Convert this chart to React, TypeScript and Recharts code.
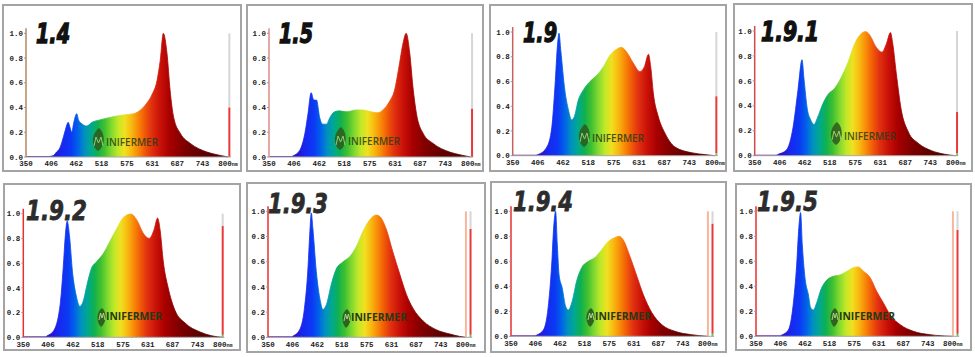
import React from 'react';
import { AreaChart, Area, XAxis, YAxis, ReferenceLine } from 'recharts';

const titles = ['1.4', '1.5', '1.9', '1.9.1', '1.9.2', '1.9.3', '1.9.4', '1.9.5'];
const waveTicks = [350, 406, 462, 518, 575, 631, 687, 743, 800];
const levelTicks = [0, 0.2, 0.4, 0.6, 0.8, 1.0];

// relative intensity, [nm, value]
const spec14 = [
  [350, 0.004], [400, 0.004], [410, 0.01], [418, 0.04], [425, 0.07], [430, 0.12], [437, 0.21], [441, 0.26],
  [444, 0.28], [448, 0.24], [452, 0.2], [456, 0.27], [460, 0.33], [463, 0.35], [467, 0.3], [474, 0.27],
  [485, 0.25], [497, 0.28], [515, 0.3], [537, 0.32], [567, 0.34], [590, 0.35], [605, 0.38], [618, 0.43],
  [630, 0.5], [642, 0.62], [649, 0.78], [656, 1.0], [664, 0.84], [671, 0.54], [679, 0.32], [694, 0.19],
  [716, 0.11], [753, 0.04], [780, 0.015], [800, 0],
];
const spec15 = [
  [350, 0.004], [400, 0.004], [404, 0.01], [418, 0.05], [430, 0.19], [437, 0.35], [444, 0.52], [450, 0.46],
  [456, 0.46], [463, 0.32], [470, 0.265], [478, 0.265], [486, 0.32], [496, 0.365], [507, 0.373], [522, 0.365],
  [545, 0.38], [560, 0.38], [578, 0.365], [593, 0.357], [604, 0.38], [619, 0.45], [630, 0.54], [640, 0.73],
  [649, 0.92], [656, 1.0], [664, 0.84], [671, 0.57], [679, 0.35], [694, 0.19], [716, 0.11], [753, 0.04],
  [780, 0.015], [800, 0],
];
const spec19 = [
  [350, 0.004], [400, 0.004], [407, 0.01], [426, 0.07], [437, 0.23], [444, 0.56], [450, 0.91], [453, 0.99],
  [457, 0.85], [466, 0.53], [474, 0.37], [481, 0.29], [487, 0.315], [496, 0.45], [507, 0.53], [522, 0.6],
  [537, 0.65], [552, 0.72], [566, 0.81], [581, 0.86], [592, 0.876], [603, 0.84], [618, 0.75], [633, 0.68],
  [643, 0.72], [652, 0.82], [657, 0.72], [663, 0.5], [674, 0.315], [689, 0.18], [711, 0.07], [748, 0.024],
  [780, 0.008], [800, 0],
];
const spec191 = [
  [350, 0.004], [398, 0.004], [402, 0.01], [421, 0.045], [436, 0.23], [447, 0.53], [456, 0.77], [460, 0.63],
  [468, 0.37], [475, 0.29], [483, 0.25], [490, 0.3], [503, 0.42], [514, 0.49], [529, 0.54], [544, 0.63],
  [559, 0.75], [574, 0.9], [589, 0.98], [598, 0.995], [607, 0.97], [622, 0.87], [635, 0.83], [645, 0.9],
  [654, 0.987], [659, 0.9], [667, 0.66], [678, 0.37], [694, 0.19], [716, 0.1], [746, 0.04], [775, 0.012],
  [800, 0],
];
const spec192 = [
  [350, 0.004], [400, 0.004], [403, 0.01], [418, 0.05], [433, 0.26], [440, 0.56], [445, 0.83], [449, 0.94],
  [454, 0.83], [461, 0.53], [469, 0.345], [478, 0.25], [485, 0.29], [494, 0.43], [504, 0.56], [515, 0.61],
  [531, 0.68], [546, 0.78], [561, 0.88], [576, 0.97], [593, 0.997], [606, 0.95], [621, 0.84], [634, 0.8],
  [645, 0.87], [653, 0.965], [659, 0.86], [666, 0.61], [677, 0.4], [692, 0.22], [715, 0.116], [749, 0.043],
  [775, 0.012], [800, 0],
];
const spec193 = [
  [350, 0.004], [404, 0.004], [407, 0.01], [422, 0.06], [433, 0.23], [441, 0.55], [445, 0.82], [448.6, 0.987],
  [452, 0.87], [460, 0.52], [469, 0.29], [475, 0.22], [483, 0.26], [494, 0.42], [505, 0.54], [521, 0.6],
  [536, 0.64], [551, 0.72], [566, 0.84], [581, 0.93], [596, 0.97], [604, 0.96], [619, 0.86], [634, 0.68],
  [650, 0.5], [665, 0.34], [680, 0.23], [703, 0.13], [733, 0.06], [764, 0.026], [785, 0.008], [800, 0],
];
const spec194 = [
  [350, 0.004], [405, 0.004], [409, 0.01], [424, 0.05], [435, 0.23], [443, 0.57], [448, 0.89], [452, 1.0],
  [456, 0.73], [460, 0.49], [467, 0.39], [475, 0.24], [481, 0.21], [490, 0.28], [500, 0.44], [512, 0.55],
  [527, 0.6], [542, 0.63], [557, 0.69], [573, 0.76], [588, 0.79], [597, 0.8], [607, 0.77], [622, 0.64],
  [638, 0.48], [653, 0.33], [672, 0.19], [695, 0.093], [725, 0.04], [763, 0.013], [800, 0],
];
const spec195 = [
  [350, 0.004], [405, 0.004], [409, 0.01], [424, 0.05], [435, 0.25], [443, 0.57], [448, 0.87], [452, 0.99],
  [456, 0.73], [462, 0.47], [470, 0.33], [475, 0.23], [481, 0.21], [489, 0.27], [498, 0.37], [512, 0.45],
  [527, 0.48], [542, 0.49], [558, 0.52], [573, 0.55], [584, 0.555], [596, 0.52], [611, 0.47], [626, 0.36],
  [641, 0.27], [657, 0.17], [680, 0.093], [710, 0.04], [748, 0.013], [800, 0],
];
const spectra = [spec14, spec15, spec19, spec191, spec192, spec193, spec194, spec195];

// height of the red indicator bar at the right end of each plot
const redLevels = [0.4, 0.39, 0.48, 0.35, 0.9, 0.86, 0.9, 0.85];

// fill colour along the wavelength axis
const bandNm = [380, 410, 430, 450, 465, 480, 495, 510, 525, 540, 555, 570, 585, 600, 615, 630, 650, 670, 700, 740, 800];
const bandColor = [
  '#5a00a0', '#2a10d0', '#1828ee', '#0c38f4', '#0060ea', '#0090c0', '#00a890', '#10b050', '#40c030',
  '#80d830', '#c0e828', '#f0e020', '#f8b810', '#f88808', '#f05808', '#e03010', '#c81008', '#a80000',
  '#800000', '#600000', '#4a0000',
];

const layouts = [
  { box: [2, 4, 240, 168], plot: [26, 33.3, 228, 157], xMax: 806, barX: 803, axis: '#b8865a', row: 1, title: [36, 43, 34], mark: [92, 146] },
  { box: [246, 4, 238, 168], plot: [269, 33.3, 470.7, 157], xMax: 806, barX: 803, axis: '#e08a8a', row: 1, title: [279, 43, 34], mark: [334, 145] },
  { box: [489, 4, 238, 168], plot: [512.7, 32, 715, 155.7], xMax: 806, barX: 803, axis: '#c86060', row: 1, title: [523, 42, 34], mark: [578, 142] },
  { box: [733, 3, 240, 169], plot: [754.7, 31, 955.7, 155.7], xMax: 806, barX: 803, axis: '#d84848', row: 1, title: [761, 41, 58], mark: [830, 140] },
  { box: [3, 183, 238, 168], plot: [23.3, 213.7, 222.7, 337.3], xMax: 804, barX: 800, axis: '#e83030', row: 2, title: [26, 220, 61], mark: [98, 320] },
  { box: [246, 182, 240, 171], plot: [268, 211.3, 465.7, 337.3], xMax: 815, barX: 811, axis: '#e83030', row: 2, title: [268, 213, 60], mark: [343, 321] },
  { box: [490, 181, 237, 172], plot: [511, 211.3, 707.7, 336.3], xMax: 815, barX: 811, axis: '#e83030', row: 2, title: [513, 211, 60], mark: [587, 320] },
  { box: [735, 183, 237, 168], plot: [756, 211.3, 952.7, 336.3], xMax: 815, barX: 811, axis: '#e83030', row: 2, title: [757, 211, 61], mark: [831, 320] },
];

const Y_MAX = 1.04;
const tickFont = 'Liberation Mono, DejaVu Sans Mono, monospace';

const WaveTick = (props: any) => {
  const { x, y, payload } = props;
  const v = payload.value;
  return (
    <text x={x} y={y} dy="0.71em" textAnchor="middle" fontSize={7.5} fontWeight="bold" fontFamily={tickFont} fill="#222">
      {v}
      {v === 800 && <tspan fontSize={5}>nm</tspan>}
    </text>
  );
};

const Panel = ({ idx }: { idx: number }) => {
  const L = layouts[idx];
  const [bx, by, bw, bh] = L.box;
  const [pl, pt, p800, pb] = L.plot;
  const ox = bx + 2;
  const oy = by + 2;
  const cw = bw - 4;
  const ch = bh - 4;
  const right = pl + ((L.xMax - 350) * (p800 - pl)) / 450;
  const top = pt - (Y_MAX - 1) * (pb - pt);
  const yW = 16;
  const xH = 12;
  const margin = {
    left: pl - ox - yW,
    right: cw - (right - ox),
    top: top - oy,
    bottom: ch - (pb - oy) - xH,
  };
  const data = spectra[idx].map(([nm, v]) => ({ nm, v }));
  const gid = `spec-${idx}`;
  const level = redLevels[idx];
  const withGreen = idx >= 2;
  const withPeach = idx >= 5;
  const [tx, ty, tw] = L.title;
  const [mx, my] = L.mark;
  const big = L.row === 2;
  const titleColor = big ? '#2c2c2c' : '#111';

  return (
    <div
      style={{
        position: 'absolute', left: bx, top: by, width: bw, height: bh,
        border: '2px solid #a4a4a4', boxSizing: 'border-box', background: '#fff',
      }}
    >
      <div style={{ position: 'absolute', left: 0, top: 0 }}>
        <AreaChart width={cw} height={ch} data={data} margin={margin}>
          <defs>
            <linearGradient id={gid} x1="0" y1="0" x2="1" y2="0">
              {bandNm.map((nm, i) => (
                <stop key={nm} offset={Math.max(0, (nm - 350) / 450)} stopColor={bandColor[i]} />
              ))}
            </linearGradient>
          </defs>
          <XAxis
            dataKey="nm" type="number" domain={[350, L.xMax]} ticks={waveTicks} interval={0}
            height={xH} tickLine={false} tickSize={0} tickMargin={4}
            axisLine={{ stroke: '#a8a8a8' }} tick={<WaveTick />}
          />
          <YAxis
            type="number" domain={[0, Y_MAX]} ticks={levelTicks} width={yW} interval={0}
            tickSize={2} tickMargin={1} tickLine={{ stroke: '#999' }}
            axisLine={{ stroke: L.axis, strokeWidth: 1.5 }}
            tickFormatter={(v: number) => v.toFixed(1)}
            tick={{ fontSize: 7.5, fontWeight: 'bold', fontFamily: tickFont, fill: '#222' }}
          />
          <Area
            type="monotone" dataKey="v" stroke={`url(#${gid})`} strokeWidth={0.8}
            fill={`url(#${gid})`} fillOpacity={1} isAnimationActive={false} dot={false} activeDot={false}
          />
          {withPeach && (
            <ReferenceLine segment={[{ x: 800.5, y: 0 }, { x: 800.5, y: 1 }]} stroke="#f7b69a" strokeWidth={2} ifOverflow="visible" />
          )}
          <ReferenceLine segment={[{ x: L.barX, y: level }, { x: L.barX, y: 1 }]} stroke="#d6d6d6" strokeWidth={2} ifOverflow="visible" />
          <ReferenceLine segment={[{ x: L.barX, y: withGreen ? 0.02 : 0 }, { x: L.barX, y: level }]} stroke="#e8383a" strokeWidth={2} ifOverflow="visible" />
          {withGreen && (
            <ReferenceLine segment={[{ x: L.barX, y: 0 }, { x: L.barX, y: 0.02 }]} stroke="#58d058" strokeWidth={2} ifOverflow="visible" />
          )}
        </AreaChart>
      </div>
      <svg width={cw} height={ch} style={{ position: 'absolute', left: 0, top: 0, pointerEvents: 'none' }}>
        <text
          x={tx - ox} y={ty - oy} fontSize={27} fontWeight="bold" fontStyle="italic"
          fontFamily="DejaVu Sans, sans-serif" fill={titleColor} stroke={titleColor} strokeWidth={big ? 0.8 : 1.4}
          textLength={tw} lengthAdjust="spacingAndGlyphs"
        >
          {titles[idx]}
        </text>
        {big ? (
          <g transform={`translate(${mx - ox}, ${my - oy})`}>
            <path d="M4,-12 C9,-8 9,2 3,7 C-2,2 -2,-8 4,-12 Z" fill="#2f6420" />
            <path d="M1,0 L2.5,-7 L4,-2 L5.5,-7 L7,0" fill="none" stroke="#b8e090" strokeWidth={0.9} />
            <text x={8} y={0} fontSize={10} fontWeight="bold" fontFamily="Open Sans, DejaVu Sans, sans-serif" fill="#243a14" textLength={56} lengthAdjust="spacingAndGlyphs">
              INIFERMER
            </text>
          </g>
        ) : (
          <g transform={`translate(${mx - ox}, ${my - oy})`} opacity={0.85}>
            <path d="M7,-18 C14,-12 13,1 6,5 C-1,1 -1,-12 7,-18 Z" fill="#2f5a1c" />
            <path d="M2,0 L4,-9 L6.5,-3 L9,-9 L11,0" fill="none" stroke="#a8d080" strokeWidth={1} />
            <text x={14} y={0} fontSize={11} fontWeight={600} fontFamily="Open Sans, DejaVu Sans, sans-serif" fill="#2a3d18" textLength={52} lengthAdjust="spacingAndGlyphs">
              INIFERMER
            </text>
          </g>
        )}
      </svg>
    </div>
  );
};

const App = () => (
  <div style={{ position: 'absolute', left: 0, top: 0, width: 975, height: 357, background: '#fff', overflow: 'hidden' }}>
    {titles.map((t, i) => (
      <Panel key={t} idx={i} />
    ))}
  </div>
);

export default App;
